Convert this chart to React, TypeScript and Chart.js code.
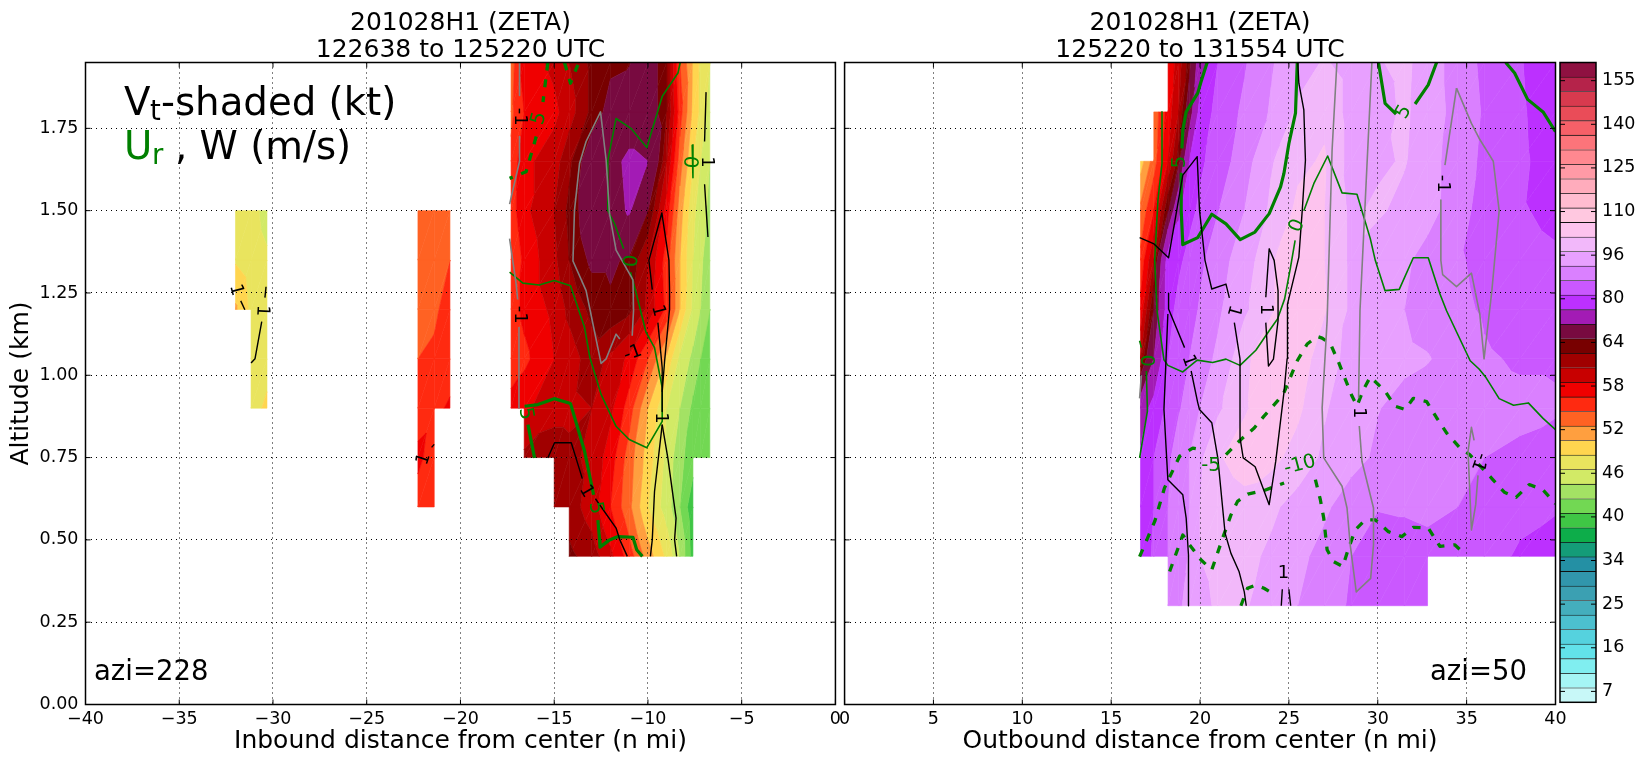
import { useEffect, useRef } from 'react'
import { Chart, registerables } from 'chart.js'

Chart.register(...registerables)
Chart.defaults.font.family = '"DejaVu Sans"'
Chart.defaults.color = '#000'

// shading levels (kt) and the colour between each pair
const levels = [4, 7, 10, 13, 16, 19, 22, 25, 28, 31, 34, 36, 38, 40, 42, 44, 46, 48, 50, 52, 54, 56, 58, 60, 62, 64, 69, 75, 80, 85, 90, 96, 101, 105, 110, 115, 120, 125, 130, 135, 140, 145, 150, 155, 160]
const levelColors = ['#c8f8f8', '#a5f5f5', '#80eef0', '#62e2ea', '#55d2de', '#4cc0cf', '#44aebd', '#3ba0b2', '#3196ac', '#2490a4', '#149c78', '#0dad4a', '#3fc645', '#72d853', '#a3e264', '#d2ea66', '#e9e45e', '#ffd54f', '#ff9f3f', '#ff6223', '#ff2a10', '#f00000', '#c80000', '#a00000', '#780000', '#780a40', '#a31bb5', '#bc30ff', '#ca58ff', '#da80ff', '#e8a0ff', '#f2b8fa', '#fdc3ee', '#ffc8e0', '#ffbcd0', '#ffacbc', '#ff9aa6', '#ff8890', '#fc747a', '#f66068', '#ea4c58', '#d83a4e', '#b5234a', '#8f1141']
const colorbarTicks = [0.75, 3.75, 6.75, 9.75, 12.75, 15.75, 18.75, 21.75, 24.75, 27.75, 30.75, 33.75, 36.75, 39.75, 42.75]
const colorbarLabels = ['7', '16', '25', '34', '40', '46', '52', '58', '64', '80', '96', '110', '125', '140', '155']

const altitudeTicks = [0, 0.25, 0.5, 0.75, 1, 1.25, 1.5, 1.75]
const inboundTicks = [-40, -35, -30, -25, -20, -15, -10, -5, 0]
const outboundTicks = [0, 5, 10, 15, 20, 25, 30, 35, 40]

const n = null

// Vt on the inbound leg
const leftAlt = [0.45, 0.6, 0.75, 0.9, 1.05, 1.2, 1.35, 1.5, 1.65, 1.8, 1.95]
const leftDist = [-17.3, -16.6, -15, -14.2, -13, -12, -11, -10, -9, -8.3, -7.6, -7.2, -6.7]
const leftVt = [
  [n, n, n, 62.5, 61, 58.5, 55, 51, 47.5, 44, 39, n, n],
  [n, n, 60.5, 61, 59, 56, 52.5, 48, 45, 42, 38.5, n, n],
  [n, 60.5, 60.8, 60.5, 59.5, 57, 53, 49, 45.5, 42.5, 41, 40.7, 40.5],
  [57, 57.5, 59.5, 59.5, 60, 58.5, 55, 50, 46, 44, 41.5, 41, 40.5],
  [54.5, 55.5, 58, 59, 61, 59.5, 57.5, 54, 49.5, 45.5, 43.5, 42, 41],
  [55, 56.5, 58.5, 60.5, 62.5, 63.5, 62.5, 59.5, 55.5, 50, 45.5, 44, 42],
  [54, 56.5, 59.5, 62, 64.5, 64.5, 63.5, 60, 55, 50, 46, 44.5, 42.5],
  [55, 57.5, 60, 62.5, 66, 67, 69.5, 64, 57, 51, 46.5, 45, 43.5],
  [54.5, 57.5, 59, 61.5, 66, 67.5, 70, 69, 60, 53, 48, 46, 44],
  [53.5, 56, 57.5, 59, 62.5, 65, 66, 66, 62, 55, 49.5, 47.5, 45],
  [53, 57, 58.5, 60, 62.5, 63.5, 63.8, 66, 62, 54, 50, 47.5, 46],
]
const patchAAlt = [0.9, 1.05, 1.2, 1.35, 1.5]
const patchADist = [-32, -31.17, -30.32]
const patchAVt = [
  [n, 47, 48.5],
  [n, 47, 47],
  [50.3, 47.5, 46.5],
  [47.8, 46.8, 46.2],
  [46.5, 46.5, 45.5],
]
const patchBAlt = [0.6, 0.75, 0.9, 1.05, 1.2, 1.35, 1.5]
const patchBDist = [-22.27, -21.4, -20.56]
const patchBVt = [
  [55, 55, n],
  [56.5, 55, n],
  [55, 55.5, 56.3],
  [54, 54.3, 55],
  [53.4, 53.7, 54.7],
  [53, 53.3, 54],
  [53, 53, 53.5],
]

// Vt on the outbound leg
const rightAlt = [0.3, 0.45, 0.6, 0.75, 0.9, 1.05, 1.2, 1.35, 1.5, 1.65, 1.8, 1.95]
const rightDist = [16.65, 17.4, 18.2, 18.8, 19.4, 20, 21, 22.5, 24, 25.5, 27, 28.5, 30, 31.5, 32.8, 34.5, 36, 38, 40]
const rightVt = [
  [n, n, 88, 89, 92, 95, 96.5, 96.5, 93.5, 90, 87, 84.5, 81, 83, 82, n, n, n, n],
  [78, 80.5, 85, 87, 90.5, 96, 97, 97.5, 95, 91.5, 88, 85, 83, 83, 83.5, 83, 81.5, 79.5, 78.5],
  [78, 80, 85, 88, 90, 96, 98, 99.5, 97, 94, 91, 87, 85.2, 85.5, 86, 85, 83.5, 81, 80.3],
  [76, 80, 84, 87.5, 90, 95, 100.5, 103, 102.5, 99, 95, 92, 89, 88, 87.5, 86, 85, 84.2, 83],
  [72, 77, 81, 84.5, 87, 90, 95, 100.5, 103.5, 102, 96.5, 93, 90.2, 88.5, 87.5, 86.5, 86.5, 86, 85.5],
  [60, 69, 80, 82.5, 85, 87.5, 91, 100, 104, 104, 98, 94.5, 92, 91, 90.3, 88, 85.5, 84.5, 84.5],
  [56.5, 64, 78, 81.5, 83, 85.5, 89, 95, 100.5, 104, 101.5, 95, 91, 90, 88, 86, 84.5, 83, 82.5],
  [54.5, 60, 77.5, 79, 81.5, 84, 87.5, 93, 100.5, 104, 101, 95, 92, 91, 88, 85.5, 83.8, 81.5, 80.6],
  [52.5, 56, 64, 74, 78.5, 81, 84.8, 90, 97, 102, 101, 95, 97, 94, 92, 87, 83, 80.4, 79],
  [49, 53, 58, 63, 75, 79, 82.5, 87.5, 95.5, 100, 101.5, 94, 95, 96.5, 92, 87.5, 84, 80.8, 78],
  [n, 52.5, 57, 60, 66, 77, 81.5, 86, 90.5, 97, 100, 94, 93.5, 97, 93, 88, 84.5, 80.6, 77.5],
  [n, n, 56.5, 59, 63, 72, 80, 84.5, 89.5, 93.5, 96.5, 94, 95.5, 97.5, 93, 87.5, 84, 80.3, 77],
]

type Pt = [number, number]

// Ur 0 m/s, thin green
const leftUrZero: Pt[][] = [
  [[-8.28, 1.95], [-8.4, 1.918], [-9.24, 1.847], [-10.06, 1.692], [-10.91, 1.75], [-11.7, 1.78], [-12.14, 1.653], [-12.14, 1.5], [-11.78, 1.46], [-11.3, 1.384]],
  [[-17.38, 1.313], [-16.67, 1.28], [-15.8, 1.274], [-15, 1.288], [-14.13, 1.272], [-14, 1.25], [-13.38, 1.145], [-13.1, 1.054], [-12.5, 0.942], [-11.7, 0.845], [-11, 0.805], [-10.06, 0.78], [-9.24, 0.86], [-9.24, 0.962], [-9.65, 1.084], [-10.1, 1.13], [-10.63, 1.25], [-10.93, 1.313]],
  [[-7.64, 1.7], [-7.6, 1.6]],
]
// Ur 5 m/s, thick green
const leftUrFive: Pt[][] = [
  [[-16.58, 0.906], [-15.87, 0.911], [-15, 0.929], [-14.13, 0.914], [-13.38, 0.769], [-12.9, 0.637]],
  [[-12.67, 0.56], [-12.58, 0.5], [-12.56, 0.478], [-12.05, 0.5], [-11.6, 0.51], [-10.8, 0.508], [-10.6, 0.47], [-10.3, 0.45]],
  [[-16.4, 0.85], [-16.05, 0.749]],
]
// Ur -5 m/s, thick dashed green
const leftUrNeg: Pt[][] = [
  [[-15.34, 1.95], [-15.6, 1.83]],
  [[-15.96, 1.725], [-16.5, 1.618], [-17.38, 1.598]],
  [[-14.45, 1.95], [-14.13, 1.887], [-13.74, 1.943]],
]
// W 1 m/s, black
const leftWUp: Pt[][] = [
  [[-9.47, 1.16], [-9.24, 1.023], [-9.24, 0.89]],
  [[-9.24, 0.85], [-8.94, 0.749], [-8.5, 0.566], [-8.58, 0.5], [-8.47, 0.45]],
  [[-9.24, 0.85], [-9.65, 0.647], [-9.77, 0.5], [-9.87, 0.45]],
  [[-9.77, 1.26], [-9.95, 1.349], [-9.26, 1.493], [-8.88, 1.349], [-8.85, 1.26], [-8.85, 1.2], [-9.11, 1.044], [-9.24, 0.95]],
  [[-15.34, 0.749], [-14.98, 0.795], [-14.09, 0.795], [-13.5, 0.686]],
  [[-12.8, 0.625], [-11.7, 0.536], [-11.5, 0.5], [-11.1, 0.45]],
  [[-6.9, 1.86], [-6.98, 1.71]],
  [[-6.98, 1.58], [-6.8, 1.42]],
  [[-31.72, 1.226], [-31.5, 1.199]],
  [[-30.37, 1.269], [-30.43, 1.236]],
  [[-30.6, 1.163], [-30.96, 1.05], [-31.17, 1.037]],
  [[-21.54, 0.781], [-21.4, 0.79]],
]
// W -1 m/s, grey
const leftWDown: Pt[][] = [
  [[-16.85, 1.95], [-16.85, 1.85]],
  [[-16.85, 1.725], [-16.85, 1.65], [-17.38, 1.52]],
  [[-17.38, 1.415], [-17.03, 1.277], [-16.95, 1.23]],
  [[-16.88, 1.145], [-16.88, 0.9]],
  [[-11.5, 1.11], [-11.7, 1.125], [-12.23, 1.05], [-12.5, 1.036], [-13.3, 1.257], [-14, 1.347], [-13.92, 1.5], [-13.65, 1.643], [-13.3, 1.71], [-12.53, 1.8], [-12.23, 1.653], [-12.05, 1.49], [-11.7, 1.38], [-10.8, 1.29], [-10.77, 1.196], [-10.84, 1.12]],
]

const rightUrZero: Pt[][] = [
  [[17.86, 1.8], [17.86, 1.643], [17.63, 1.531], [17.45, 1.349], [17.58, 1.196], [17.97, 1.047], [18.19, 1.03], [19.03, 1.01], [19.84, 1.046], [20.71, 1.039], [21.46, 1.049], [22.25, 1.03], [23.14, 1.076], [23.89, 1.135], [24.36, 1.171], [24.76, 1.232], [25.09, 1.328], [25.35, 1.41]],
  [[25.84, 1.5], [26.4, 1.582], [27.18, 1.666], [27.99, 1.554], [28.83, 1.55], [29.58, 1.415], [29.86, 1.349], [30.41, 1.257], [31.21, 1.261], [32, 1.357], [32.84, 1.357], [33.5, 1.247], [33.87, 1.196], [35.2, 1.044], [35.7, 1.019], [36.09, 0.993], [36.83, 0.929], [37.64, 0.909], [38.47, 0.916], [39.3, 0.869], [40, 0.835]],
  [[16.98, 1.013], [17.04, 0.891], [16.6, 0.749]],
  [[16.6, 1.105], [16.7, 1.084]],
]
const rightUrFive: Pt[][] = [
  [[20.4, 1.95], [20.06, 1.892], [19.87, 1.857], [19.22, 1.8], [19.03, 1.745], [18.98, 1.689]],
  [[18.94, 1.611], [18.94, 1.5], [19.03, 1.397], [19.87, 1.418], [20.66, 1.489], [21.46, 1.46], [22.26, 1.412], [23.09, 1.435], [23.89, 1.491], [24.53, 1.572], [24.72, 1.613], [25, 1.704], [25.37, 1.796], [25.47, 1.95]],
  [[30.04, 1.95], [30.41, 1.826], [31.03, 1.793]],
  [[32.1, 1.824], [32.84, 1.882], [33.31, 1.95]],
  [[37.2, 1.95], [37.7, 1.918], [38.43, 1.838], [39.3, 1.8], [40, 1.74]],
]
const rightUrNeg: Pt[][] = [
  [[16.6, 0.449], [17.45, 0.556], [18, 0.658], [18.85, 0.754], [19.59, 0.779], [20.06, 0.774]],
  [[21.46, 0.759], [22.3, 0.805], [23.05, 0.84], [23.6, 0.876], [24.36, 0.922], [24.72, 0.947], [25.19, 1.008], [25.47, 1.044], [26.03, 1.095], [26.59, 1.118], [26.87, 1.113], [27.34, 1.095], [27.8, 1.039], [28.17, 0.988], [28.55, 0.937], [28.83, 0.907], [29.2, 0.957], [29.58, 0.995], [30.41, 0.952], [30.97, 0.906], [31.53, 0.896], [32, 0.93], [32.75, 0.92], [33.31, 0.871], [33.87, 0.825], [34.61, 0.78], [35.17, 0.759], [36.46, 0.684], [37.12, 0.645], [37.78, 0.629], [38.52, 0.668], [39.27, 0.653], [40, 0.61]],
  [[18.29, 0.404], [19.03, 0.515], [19.41, 0.485], [20.06, 0.439], [20.66, 0.409], [21.27, 0.505], [21.74, 0.576], [22.11, 0.617], [22.68, 0.639], [23.61, 0.65], [24.73, 0.673]],
  [[26.49, 0.683], [26.77, 0.622], [26.96, 0.566], [27.15, 0.47], [27.52, 0.434], [28.03, 0.419], [28.36, 0.475], [28.73, 0.53], [29.3, 0.561], [29.86, 0.561], [30.6, 0.525], [31.35, 0.51], [32, 0.538], [32.84, 0.536], [33.5, 0.48], [34.33, 0.485], [34.95, 0.454]],
  [[22.3, 0.3], [22.67, 0.353], [23.13, 0.363], [23.6, 0.353], [24, 0.34]],
]
const rightWUp: Pt[][] = [
  [[16.6, 1.418], [17.41, 1.399], [18.23, 1.357], [19.03, 1.608], [19.84, 1.664], [19.97, 1.501], [20.28, 1.349], [20.66, 1.262], [21.46, 1.277], [21.65, 1.235]],
  [[21.93, 1.16], [22.25, 1.049], [22.25, 0.81], [22.43, 0.749], [23.1, 0.722], [23.89, 0.607], [24.26, 0.739], [24.73, 0.952], [24.9, 1.05], [24.94, 1.176], [24.9, 1.216], [25.56, 1.359], [25.75, 1.5], [25.93, 1.653], [25.84, 1.806], [25.56, 1.887], [25.5, 1.95]],
  [[18.23, 1.249], [18.23, 1.201], [19.13, 1.084]],
  [[19.5, 1.013], [19.87, 0.917], [19.97, 0.896], [20.66, 0.856], [21, 0.749], [21.41, 0.52], [21.74, 0.459], [22.2, 0.403], [22.49, 0.342], [22.6, 0.3]],
  [[18.19, 1.186], [17.97, 0.896], [18.19, 0.683], [19.03, 0.637], [19.22, 0.566], [19.35, 0.454], [19.35, 0.3]],
  [[23.7, 1.16], [23.85, 1.028], [24.13, 1.049], [24.39, 1.166], [24.39, 1.257], [24.17, 1.349], [23.89, 1.384], [23.7, 1.237]],
  [[24.63, 0.35], [24.57, 0.3]],
  [[25, 0.35], [25.1, 0.3]],
]
const rightWDown: Pt[][] = [
  [[27.7, 1.95], [27.43, 1.684], [27.15, 1.166], [26.87, 0.901], [26.96, 0.749], [27.99, 0.663], [28.27, 0.597], [28.45, 0.485], [28.79, 0.342], [29.6, 0.383], [29.76, 0.485], [29.76, 0.597], [29.11, 0.739], [28.96, 0.846]],
  [[28.92, 0.93], [29, 1.196], [29.67, 1.95]],
  [[34.43, 1.872], [33.78, 1.638]],
  [[33.55, 1.532], [33.55, 1.349], [33.65, 1.306], [34.43, 1.269], [35.27, 1.31], [35.74, 1.186], [35.98, 1.05], [36.42, 1.257], [36.83, 1.5], [36.5, 1.65], [35.7, 1.72], [35.27, 1.765], [34.43, 1.872]],
  [[35.42, 0.802], [35.27, 0.842], [35.08, 0.769], [35.27, 0.53], [35.51, 0.607], [35.64, 0.696]],
  [[16.7, 1.0], [16.6, 0.93]],
]

const green = '#008000'
const grey = '#808080'
const black = '#000000'

// contour labels: x, y, text, colour, rotation in degrees
type Label = [number, number, string, string, number]
const leftLabels: Label[] = [
  [-16.85, 1.785, '-1', black, 90],
  [-16.85, 1.184, '-1', black, 90],
  [-10.8, 1.067, '-1', black, -20],
  [-15.8, 1.78, '5', green, -75],
  [-16.53, 0.883, '5', green, 80],
  [-12.8, 0.597, '5', green, 80],
  [-11.07, 1.348, '0', green, 95],
  [-7.78, 1.648, '0', green, 95],
  [-6.85, 1.648, '1', black, 90],
  [-9.47, 1.196, '1', black, 75],
  [-9.3, 0.87, '1', black, 90],
  [-13.3, 0.647, '1', black, 60],
  [-31.97, 1.259, '1', black, 75],
  [-30.58, 1.196, '1', black, 93],
  [-21.95, 0.745, '1', black, -72],
]
const rightLabels: Label[] = [
  [18.85, 1.648, '5', green, -90],
  [31.48, 1.799, '5', green, -60],
  [25.47, 1.454, '0', green, -70],
  [16.98, 1.044, '0', green, 90],
  [20.62, 0.724, '-5', green, 0],
  [25.62, 0.727, '-10', green, -15],
  [21.89, 1.196, '1', black, 105],
  [19.35, 1.044, '1', black, 70],
  [23.7, 1.2, '1', black, 90],
  [24.7, 0.398, '1', black, 0],
  [28.92, 0.886, '1', black, 90],
  [33.63, 1.582, '-1', black, 90],
  [35.7, 0.737, '-1', black, 110],
]

type Field = { xs: number[]; ys: number[]; vals: (number | null)[][] }

const line = (pts: Pt[], color: string, width: number, dash: number[] = []) => ({
  type: 'scatter' as const,
  data: pts.map(([x, y]) => ({ x, y })),
  showLine: true,
  borderColor: color,
  borderWidth: width,
  borderDash: dash,
  borderJoinStyle: 'round' as const,
  pointRadius: 0,
  fill: false,
  tension: 0,
})

const contourSets = (zero: Pt[][], five: Pt[][], neg: Pt[][], up: Pt[][], down: Pt[][]) => [
  ...down.map((p) => line(p, grey, 1.6)),
  ...up.map((p) => line(p, black, 1.4)),
  ...zero.map((p) => line(p, green, 1.6)),
  ...five.map((p) => line(p, green, 3.2)),
  ...neg.map((p) => line(p, green, 3.3, [8, 9])),
]

// keep the part of a polygon on one side of a value
function clipValue(poly: number[][], limit: number, above: boolean) {
  const out: number[][] = []
  for (let i = 0; i < poly.length; i++) {
    const a = poly[i]
    const b = poly[(i + 1) % poly.length]
    const aIn = above ? a[2] >= limit : a[2] <= limit
    const bIn = above ? b[2] >= limit : b[2] <= limit
    if (aIn) out.push(a)
    if (aIn !== bIn) {
      const t = (limit - a[2]) / (b[2] - a[2])
      out.push([a[0] + t * (b[0] - a[0]), a[1] + t * (b[1] - a[1]), limit])
    }
  }
  return out
}

// filled contours of the gridded fields
const shadingPlugin = (fields: Field[]) => ({
  id: 'shading',
  beforeDraw(chart: any) {
    const { ctx, chartArea, scales } = chart
    ctx.save()
    ctx.beginPath()
    ctx.rect(chartArea.left, chartArea.top, chartArea.width, chartArea.height)
    ctx.clip()
    ctx.lineWidth = 0.6
    for (const f of fields) {
      const px = f.xs.map((v) => scales.x.getPixelForValue(v))
      const py = f.ys.map((v) => scales.y.getPixelForValue(v))
      for (let r = 0; r < f.ys.length - 1; r++) {
        for (let c = 0; c < f.xs.length - 1; c++) {
          const v00 = f.vals[r][c]
          const v01 = f.vals[r][c + 1]
          const v10 = f.vals[r + 1][c]
          const v11 = f.vals[r + 1][c + 1]
          if (v00 === null || v01 === null || v10 === null || v11 === null) continue
          const tris = [
            [[px[c], py[r], v00], [px[c + 1], py[r], v01], [px[c + 1], py[r + 1], v11]],
            [[px[c], py[r], v00], [px[c + 1], py[r + 1], v11], [px[c], py[r + 1], v10]],
          ]
          for (const tri of tris) {
            for (let k = 0; k < levelColors.length; k++) {
              let poly = clipValue(tri, levels[k], true)
              if (poly.length < 3) continue
              poly = clipValue(poly, levels[k + 1], false)
              if (poly.length < 3) continue
              ctx.beginPath()
              poly.forEach((p, i) => (i ? ctx.lineTo(p[0], p[1]) : ctx.moveTo(p[0], p[1])))
              ctx.closePath()
              ctx.fillStyle = levelColors[k]
              ctx.strokeStyle = levelColors[k]
              ctx.fill()
              ctx.stroke()
            }
          }
        }
      }
    }
    ctx.restore()
  },
})

// spines and inward tick marks
const framePlugin = {
  id: 'frame',
  afterDraw(chart: any) {
    const { ctx, chartArea: a, scales } = chart
    ctx.save()
    ctx.strokeStyle = '#000'
    ctx.lineWidth = 1
    ctx.beginPath()
    if (scales.x && scales.x.options.display) {
      for (const t of scales.x.ticks) {
        const p = scales.x.getPixelForValue(t.value)
        ctx.moveTo(p, a.bottom)
        ctx.lineTo(p, a.bottom - 5)
        ctx.moveTo(p, a.top)
        ctx.lineTo(p, a.top + 5)
      }
    }
    for (const t of scales.y.ticks) {
      const p = scales.y.getPixelForValue(t.value)
      ctx.moveTo(a.left, p)
      ctx.lineTo(a.left + 5, p)
      ctx.moveTo(a.right, p)
      ctx.lineTo(a.right - 5, p)
    }
    ctx.stroke()
    ctx.lineWidth = 1.5
    ctx.strokeRect(a.left, a.top, a.width, a.height)
    ctx.restore()
  },
}

const labelPlugin = (labels: Label[], extra?: (ctx: CanvasRenderingContext2D) => void) => ({
  id: 'labels',
  afterDatasetsDraw(chart: any) {
    const { ctx, scales } = chart
    ctx.save()
    ctx.textAlign = 'center'
    ctx.textBaseline = 'middle'
    for (const [x, y, text, color, rot] of labels) {
      ctx.save()
      ctx.translate(scales.x.getPixelForValue(x), scales.y.getPixelForValue(y))
      ctx.rotate((rot * Math.PI) / 180)
      ctx.font = color === green ? '19.5px "DejaVu Sans"' : '18px "DejaVu Sans"'
      ctx.fillStyle = color
      ctx.fillText(text, 0, 0)
      ctx.restore()
    }
    ctx.restore()
    if (extra) {
      ctx.save()
      ctx.textBaseline = 'alphabetic'
      ctx.textAlign = 'left'
      extra(ctx)
      ctx.restore()
    }
  },
})

function leftNotes(ctx: CanvasRenderingContext2D) {
  ctx.fillStyle = '#000'
  ctx.font = '38.7px "DejaVu Sans"'
  ctx.fillText('V', 124, 115)
  ctx.fillText('-shaded (kt)', 161, 115)
  ctx.fillText(', W (m/s)', 175, 159)
  ctx.font = '27.5px "DejaVu Sans"'
  ctx.fillText('t', 150, 120)
  ctx.fillText('azi=228', 94, 680)
  ctx.fillStyle = green
  ctx.font = '38.7px "DejaVu Sans"'
  ctx.fillText('U', 124, 159)
  ctx.font = '27.5px "DejaVu Sans"'
  ctx.fillText('r', 152, 164)
}

function rightNotes(ctx: CanvasRenderingContext2D) {
  ctx.fillStyle = '#000'
  ctx.font = '27.5px "DejaVu Sans"'
  ctx.fillText('azi=50', 1430 - 835, 680)
}

const signed = (v: number) => (v < 0 ? '\u2212' + Math.abs(v) : String(v))

function panelOptions(o: {
  title: string[]
  xLabel: string
  xTicks: number[]
  xMin: number
  xMax: number
  yWidth: number
  showY: boolean
  padLeft: number
  padRight: number
}) {
  const gridLine = { color: '#000', lineWidth: 1, drawTicks: false, tickLength: 0 }
  return {
    responsive: false,
    animation: false as const,
    layout: { padding: { left: o.padLeft, right: o.padRight, top: 0, bottom: 0 } },
    plugins: {
      legend: { display: false },
      tooltip: { enabled: false },
      title: {
        display: true,
        text: o.title,
        fullSize: false,
        font: { size: 25, weight: 'normal' as const, lineHeight: 1.08 },
        color: '#000',
        padding: { top: 10.2, bottom: -1.7 },
      },
    },
    scales: {
      x: {
        type: 'linear' as const,
        min: o.xMin,
        max: o.xMax,
        afterBuildTicks: (s: any) => { s.ticks = o.xTicks.map((value) => ({ value })) },
        afterFit: (s: any) => { s.height = 57.5 },
        grid: gridLine,
        border: { display: false, dash: [1, 4] },
        ticks: { font: { size: 17.5 }, padding: 4, autoSkip: false, maxRotation: 0, color: '#000', callback: (v: any) => signed(Number(v)) },
        title: { display: true, text: o.xLabel, font: { size: 25 }, color: '#000', padding: { top: 0, bottom: 6 } },
      },
      y: {
        type: 'linear' as const,
        min: 0,
        max: 1.95,
        afterBuildTicks: (s: any) => { s.ticks = altitudeTicks.map((value) => ({ value })) },
        afterFit: (s: any) => { s.width = o.yWidth },
        grid: gridLine,
        border: { display: false, dash: [1, 4] },
        ticks: { display: o.showY, font: { size: 17.5 }, padding: 7, color: '#000', callback: (v: any) => Number(v).toFixed(2) },
        title: { display: o.showY, text: 'Altitude (km)', font: { size: 25 }, color: '#000', padding: { top: 6, bottom: 0 } },
      },
    },
  }
}

export default function App() {
  const leftRef = useRef<HTMLCanvasElement>(null)
  const rightRef = useRef<HTMLCanvasElement>(null)
  const barRef = useRef<HTMLCanvasElement>(null)

  useEffect(() => {
    if (!leftRef.current || !rightRef.current || !barRef.current) return

    const left = new Chart(leftRef.current, {
      type: 'scatter',
      data: { datasets: contourSets(leftUrZero, leftUrFive, leftUrNeg, leftWUp, leftWDown) as any },
      options: panelOptions({
        title: ['201028H1 (ZETA)', '122638 to 125220 UTC'],
        xLabel: 'Inbound distance from center (n mi)',
        xTicks: inboundTicks,
        xMin: -40,
        xMax: 0,
        yWidth: 85.5,
        showY: true,
        padLeft: 0,
        padRight: 9.5,
      }) as any,
      plugins: [
        shadingPlugin([
          { xs: leftDist, ys: leftAlt, vals: leftVt },
          { xs: patchADist, ys: patchAAlt, vals: patchAVt },
          { xs: patchBDist, ys: patchBAlt, vals: patchBVt },
        ]),
        labelPlugin(leftLabels, leftNotes),
        framePlugin,
      ],
    })

    const right = new Chart(rightRef.current, {
      type: 'scatter',
      data: { datasets: contourSets(rightUrZero, rightUrFive, rightUrNeg, rightWUp, rightWDown) as any },
      options: panelOptions({
        title: ['201028H1 (ZETA)', '125220 to 131554 UTC'],
        xLabel: 'Outbound distance from center (n mi)',
        xTicks: outboundTicks,
        xMin: 0,
        xMax: 40,
        yWidth: 7,
        showY: false,
        padLeft: 0,
        padRight: 19.5,
      }) as any,
      plugins: [
        shadingPlugin([{ xs: rightDist, ys: rightAlt, vals: rightVt }]),
        labelPlugin(rightLabels, rightNotes),
        framePlugin,
      ],
    })

    const bar = new Chart(barRef.current, {
      type: 'bar',
      data: {
        labels: [''],
        datasets: levelColors.map((c) => ({
          data: [1],
          backgroundColor: c,
          borderColor: '#111',
          borderWidth: { top: 0.8, bottom: 0, left: 0, right: 0 },
          borderSkipped: false,
          barPercentage: 1,
          categoryPercentage: 1,
        })),
      },
      options: {
        responsive: false,
        animation: false,
        layout: { padding: { left: 5, right: 0, top: 62.5, bottom: 59.7 } },
        plugins: { legend: { display: false }, tooltip: { enabled: false } },
        scales: {
          x: { display: false, stacked: true },
          y: {
            position: 'right',
            stacked: true,
            min: 0,
            max: levelColors.length,
            afterBuildTicks: (s: any) => { s.ticks = colorbarTicks.map((value) => ({ value })) },
            afterFit: (s: any) => { s.width = 49 },
            grid: { display: false, drawTicks: false, tickLength: 0 },
            border: { display: false },
            ticks: {
              font: { size: 17.5 },
              padding: 6,
              color: '#000',
              callback: (v: any) => colorbarLabels[colorbarTicks.indexOf(Number(v))],
            },
          },
        },
      } as any,
      plugins: [framePlugin],
    })

    return () => {
      left.destroy()
      right.destroy()
      bar.destroy()
    }
  }, [])

  return (
    <div style={{ position: 'absolute', left: 0, top: 0, width: 1645, height: 762, background: '#fff' }}>
      <canvas ref={leftRef} width={845} height={762} style={{ position: 'absolute', left: 0, top: 0 }} />
      <canvas ref={rightRef} width={740} height={762} style={{ position: 'absolute', left: 835, top: 0 }} />
      <canvas ref={barRef} width={90} height={762} style={{ position: 'absolute', left: 1555, top: 0 }} />
    </div>
  )
}
